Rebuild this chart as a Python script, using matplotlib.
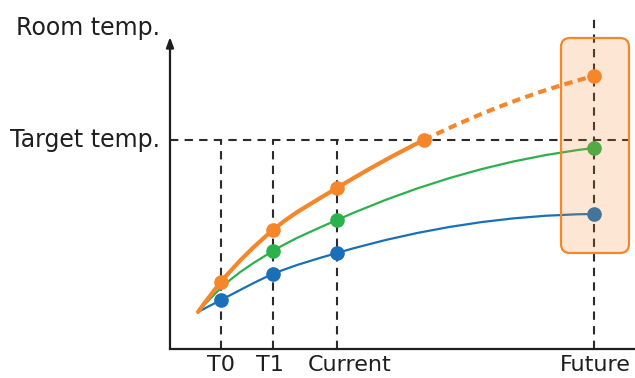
import matplotlib.pyplot as plt
from matplotlib.path import Path
from matplotlib.patches import PathPatch, FancyBboxPatch

plt.rcParams['font.family'] = ['DejaVu Sans']

# time positions (axis units, origin at the axis corner)
t_labels = ['T0', 'T1', 'Current', 'Future']
t_ticks = [51, 103, 167, 424]
label_shift = [0, -3, 13, 1]   # small horizontal nudges of the labels (px)
target_temp = 209

# room temperature curves
orange_t = [28, 51, 103, 167, 254, 424]
orange_y = [37, 67, 119, 161, 209, 273]
green_t = [28, 103, 167, 424]
green_y = [37, 98, 129, 201]
green_guide_t = [28, 51, 103]   # green curve passes here without a marker
green_guide_y = [37, 61, 98]
blue_t = [28, 51, 103, 167, 424]
blue_y = [37, 49, 75, 96, 135]

ORANGE = '#f5862a'
GREEN = '#2bb24c'
BLUE = '#1a70b8'
DARK = '#2b2b2b'
TEXT = '#1e1e1e'


def smooth_path(xs, ys):
    # cubic hermite through the points, tangents from local parabolas
    n = len(xs)
    h = [xs[i + 1] - xs[i] for i in range(n - 1)]
    d = [(ys[i + 1] - ys[i]) / h[i] for i in range(n - 1)]
    m = [0.0] * n
    for i in range(1, n - 1):
        m[i] = (h[i] * d[i - 1] + h[i - 1] * d[i]) / (h[i - 1] + h[i])
    m[0] = 2 * d[0] - m[1]
    m[-1] = max(2 * d[-1] - m[-2], 0.0)
    verts = [(xs[0], ys[0])]
    codes = [Path.MOVETO]
    for i in range(n - 1):
        k = h[i] / 3
        verts += [(xs[i] + k, ys[i] + k * m[i]),
                  (xs[i + 1] - k, ys[i + 1] - k * m[i + 1]),
                  (xs[i + 1], ys[i + 1])]
        codes += [Path.CURVE4] * 3
    return verts, codes


fig = plt.figure(figsize=(6.35, 3.78), dpi=100)
ax = fig.add_axes([170 / 635, 29 / 378, 465 / 635, 310 / 378])
ax.set_xlim(0, 465)
ax.set_ylim(0, 310)
for s in ['top', 'right', 'left']:
    ax.spines[s].set_visible(False)
ax.spines['bottom'].set_linewidth(1.6)
ax.spines['bottom'].set_color(TEXT)
ax.annotate('', xy=(0, 312), xytext=(0, 0), annotation_clip=False,
            arrowprops=dict(arrowstyle='-|>,head_length=0.6,head_width=0.22',
                            color=TEXT, lw=1.6, shrinkA=0, shrinkB=0))

# guide lines
dash = (0, (4, 3))
ax.plot([0, 458], [target_temp, target_temp], color=DARK, lw=1.5, ls=dash, zorder=1)
for t in t_ticks[:3]:
    ax.plot([t, t], [0, target_temp], color=DARK, lw=1.5, ls=dash, zorder=1)
ax.plot([t_ticks[3], t_ticks[3]], [0, 330], color=DARK, lw=1.5, ls=dash,
        zorder=1, clip_on=False)

# blue
v, c = smooth_path(blue_t, blue_y)
ax.add_patch(PathPatch(Path(v, c), fill=False, ec=BLUE, lw=1.6, zorder=2))
# green
gx = green_guide_t + green_t[2:]
gy = green_guide_y + green_y[2:]
v, c = smooth_path(gx, gy)
ax.add_patch(PathPatch(Path(v, c), fill=False, ec=GREEN, lw=1.6, zorder=2))
# orange: solid up to the target point, dashed afterwards
v, c = smooth_path(orange_t, orange_y)
ax.add_patch(PathPatch(Path(v[:13], c[:13]), fill=False, ec=ORANGE, lw=3.0,
                       capstyle='round', zorder=3))
ax.add_patch(PathPatch(Path([v[12]] + v[13:], [Path.MOVETO] + c[13:]), fill=False,
                       ec=ORANGE, lw=3.0, ls=(0, (2, 1.3)), capstyle='butt', zorder=3))

ms = 9.5
ax.plot(blue_t[1:], blue_y[1:], 'o', color=BLUE, ms=ms, zorder=4)
ax.plot(green_t[1:], green_y[1:], 'o', color=GREEN, ms=ms, zorder=4)
ax.plot(orange_t[1:], orange_y[1:], 'o', color=ORANGE, ms=ms, zorder=4)

# highlight box around the future values
box = dict(boxstyle='round,pad=0,rounding_size=9')
ax.add_patch(FancyBboxPatch((391, 96), 68, 215, fc=ORANGE, ec='none', alpha=0.2,
                            zorder=5, clip_on=False, **box))
ax.add_patch(FancyBboxPatch((391, 96), 68, 215, fc='none', ec=ORANGE, lw=1.6,
                            zorder=5, clip_on=False, **box))

# labels
ax.set_xticks([])
ax.set_yticks([])
for t, lab, dx in zip(t_ticks, t_labels, label_shift):
    ax.annotate(lab, xy=(t, 0), xytext=(dx, -6), textcoords='offset pixels',
                ha='center', va='top', fontsize=16, color=TEXT, annotation_clip=False)
ax.annotate('Target temp.', xy=(0, target_temp), xytext=(-10, 0),
            textcoords='offset pixels', ha='right', va='center', fontsize=17,
            color=TEXT, annotation_clip=False)
ax.annotate('Room temp.', xy=(0, 310), xytext=(-10, 11),
            textcoords='offset pixels', ha='right', va='center', fontsize=17,
            color=TEXT, annotation_clip=False)

fig.savefig('out.png', dpi=100)
